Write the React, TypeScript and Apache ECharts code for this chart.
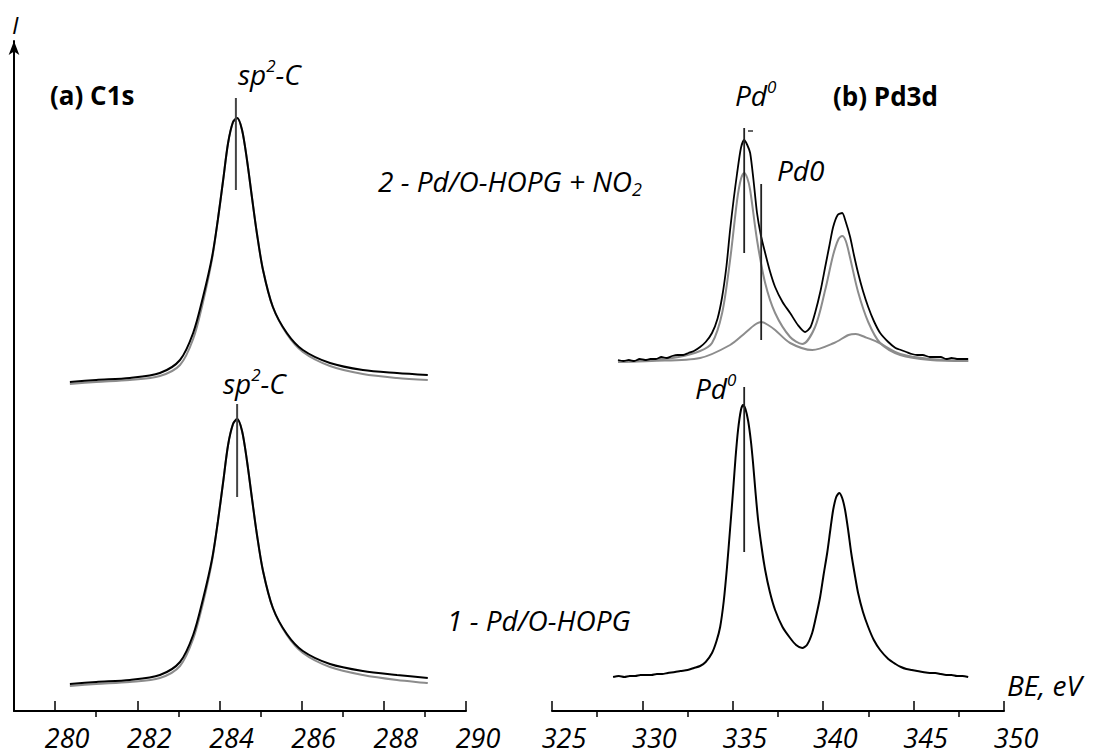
import React, { useEffect, useRef } from "react";
import * as echarts from "echarts";

const FONT = "'Open Sans', sans-serif";

// ---- C1s (binding energy, eV) ----
const c1sEnergy = [280.36, 281.0, 281.82, 282.55, 283.04, 283.36, 283.6, 283.82, 283.96, 284.09, 284.21, 284.33, 284.43, 284.55, 284.67, 284.79, 284.91, 285.06, 285.3, 285.64, 286.03, 286.69, 287.49, 288.32, 289.07];
// spectrum 2 (Pd/O-HOPG + NO2), experimental and fit
const c1sTopExp = [329, 331, 333, 338, 351, 378, 414, 454, 491, 531, 568, 589, 593, 581, 551, 514, 478, 441, 404, 378, 361, 348, 341, 338, 336];
const c1sTopFit = [327, 329, 331, 335, 346, 372, 409, 452, 491, 531, 568, 589, 593, 581, 551, 514, 478, 441, 404, 377, 359, 345, 337, 333, 331];
// spectrum 1 (Pd/O-HOPG)
const c1sBotExp = [27, 29, 31, 36, 49, 76, 112, 152, 189, 229, 266, 287, 292, 280, 250, 213, 177, 140, 103, 77, 60, 47, 40, 36, 33];
const c1sBotFit = [25, 27, 29, 33, 45, 72, 108, 150, 189, 229, 266, 287, 292, 280, 250, 213, 177, 140, 103, 76, 58, 44, 36, 31, 28];

// ---- Pd3d ----
const pdTopExp = [[328.65,351],[328.95,350],[329.25,351],[329.55,350],[329.85,352],[330.15,351],[330.45,352],[330.75,352],[331.05,354],[331.35,353],[331.65,355],[331.95,356],[332.25,356],[332.55,358],[332.85,360],[333.19,364],[333.5,369],[333.85,378],[334.15,392],[334.41,414],[334.65,445],[334.85,481],[335.05,512],[335.24,538],[335.45,563],[335.63,571],[335.8,566],[335.96,558],[336.15,530],[336.34,498],[336.55,476],[336.79,458],[337.05,440],[337.34,424],[337.75,409],[338.17,398],[338.6,386],[339.0,379],[339.3,384],[339.55,398],[339.85,420],[340.11,444],[340.35,466],[340.55,484],[340.8,496],[341.05,498],[341.25,489],[341.49,474],[341.7,456],[341.93,438],[342.2,420],[342.49,404],[342.8,390],[343.15,378],[343.6,369],[344.0,363],[344.3,361],[344.6,359],[344.9,357],[345.2,356],[345.5,356],[345.9,354],[346.2,354],[346.5,354],[346.8,352],[347.1,353],[347.4,352],[347.7,352],[348.02,352]];
const pdTopMain = [[328.65,349],[330.5,351],[332.0,354],[333.19,360],[333.85,368],[334.41,398],[334.85,451],[335.24,511],[335.45,532],[335.63,538],[335.8,533],[335.96,521],[336.34,471],[336.79,428],[337.34,398],[338.17,374],[338.84,367],[339.55,384],[340.11,421],[340.55,456],[340.85,472],[341.05,475],[341.25,470],[341.49,453],[341.93,419],[342.49,389],[343.15,368],[344.26,356],[345.92,351],[348.02,350]];
const pdTopMinor = [[328.65,349],[330.5,350],[333.19,353],[334.85,366],[335.68,378],[336.2,386],[336.57,389],[336.95,386],[337.34,381],[338.17,368],[339.4,361],[340.6,368],[341.4,376],[341.8,377],[342.3,374],[343.0,369],[344.26,357],[345.92,352],[348.02,350]];
const pdBotExp = [[328.38,34],[328.7,35],[329.0,34],[329.3,35],[329.6,35],[329.9,36],[330.2,36],[330.5,36],[330.8,37],[331.1,37],[331.4,38],[331.8,39],[332.1,40],[332.5,41],[332.85,43],[333.19,45],[333.5,49],[333.85,58],[334.1,70],[334.3,84],[334.5,110],[334.68,144],[334.85,182],[335.02,221],[335.15,253],[335.29,281],[335.45,301],[335.57,306],[335.7,302],[335.85,290],[336.0,270],[336.12,248],[336.26,218],[336.4,191],[336.6,163],[336.79,141],[337.05,119],[337.34,101],[337.75,84],[338.17,73],[338.5,66],[338.84,63],[339.1,66],[339.39,78],[339.6,94],[339.83,114],[340.02,136],[340.22,158],[340.4,182],[340.55,201],[340.72,214],[340.88,218],[341.05,213],[341.21,201],[341.38,181],[341.55,158],[341.75,136],[341.93,118],[342.2,99],[342.49,84],[342.8,71],[343.15,61],[343.6,52],[344.0,47],[344.3,44],[344.6,42],[344.9,41],[345.2,40],[345.5,39],[345.9,38],[346.2,38],[346.5,37],[346.8,36],[347.1,36],[347.4,35],[347.7,35],[348.02,34]];

// marker lines [energy, from, to]
const c1sMarkers = [[284.4, 521, 613], [284.43, 214, 307]];
const pdMarkers = [[335.63, 458, 583], [336.57, 371, 527], [335.63, 159, 324]];

const c1sMajorTicks = [280, 282, 284, 286, 288, 290];
const c1sMinorTicks = [281, 283, 285, 287, 289];
const pdMinorTicks = [327.5, 332.5, 337.5, 342.5, 347.5];

const zip = (xs: number[], ys: number[]) => xs.map((x, i) => [x, ys[i]]);

export default function App() {
  const ref = useRef<HTMLDivElement>(null);
  useEffect(() => {
    document.body.style.margin = "0";
    const chart = echarts.init(ref.current!, undefined, { renderer: "svg" });

    const line = (data: number[][], xi: number, color: string, width: number, z = 2, smooth: number | boolean = 0.3) => ({
      type: "line",
      xAxisIndex: xi,
      yAxisIndex: xi < 2 ? 0 : 1,
      data,
      smooth,
      symbol: "none",
      silent: true,
      z,
      lineStyle: { color, width },
    });

    const labelStyle = {
      color: "#000",
      fontFamily: FONT,
      fontStyle: "italic",
      fontSize: 27,
      margin: 13,
      padding: [0, 0, 0, 24],
    };
    const tickStyle = { color: "#000", width: 1.5 };

    const txt = (x: number, y: number, text: string, size: number, opts: any = {}) => ({
      type: "text",
      x,
      y,
      silent: true,
      style: {
        text,
        fill: "#000",
        fontSize: size,
        fontFamily: FONT,
        fontStyle: opts.bold ? "normal" : "italic",
        fontWeight: opts.bold ? "bold" : "normal",
        align: "left",
        verticalAlign: "middle",
        rich: opts.rich,
      },
    });

    const mainTok = (s: number) => ({ fontSize: s, fontFamily: FONT, fontStyle: "italic", fill: "#000", lineHeight: s + 6 });
    const supTok = { fontSize: 17, fontFamily: FONT, fontStyle: "italic", fill: "#000", verticalAlign: "top", lineHeight: 17 };
    const subTok = { fontSize: 18, fontFamily: FONT, fontStyle: "italic", fill: "#000", verticalAlign: "bottom", lineHeight: 18 };

    const option: any = {
      animation: false,
      grid: [
        { left: 14, top: 41, width: 452, height: 670, containLabel: false },
        { left: 552, top: 41, width: 452, height: 670, containLabel: false },
      ],
      xAxis: [
        {
          gridIndex: 0, type: "value", min: 279, max: 290,
          axisLine: { show: true, onZero: false, lineStyle: { color: "#000", width: 2 } },
          axisTick: { show: true, inside: true, length: 10, lineStyle: tickStyle, customValues: c1sMajorTicks },
          axisLabel: { ...labelStyle, customValues: c1sMajorTicks },
          splitLine: { show: false },
        },
        {
          gridIndex: 0, type: "value", min: 279, max: 290,
          axisLine: { show: false },
          axisTick: { show: true, inside: true, length: 6, lineStyle: tickStyle, customValues: c1sMinorTicks },
          axisLabel: { show: false },
          splitLine: { show: false },
        },
        {
          gridIndex: 1, type: "value", min: 325, max: 350, interval: 5,
          axisLine: { show: true, onZero: false, lineStyle: { color: "#000", width: 2 } },
          axisTick: { show: true, inside: true, length: 10, lineStyle: tickStyle },
          axisLabel: { ...labelStyle },
          splitLine: { show: false },
        },
        {
          gridIndex: 1, type: "value", min: 325, max: 350,
          axisLine: { show: false },
          axisTick: { show: true, inside: true, length: 6, lineStyle: tickStyle, customValues: pdMinorTicks },
          axisLabel: { show: false },
          splitLine: { show: false },
        },
      ],
      yAxis: [
        {
          gridIndex: 0, type: "value", min: 0, max: 670,
          axisLine: { show: true, onZero: false, symbol: ["none", "arrow"], symbolSize: [8, 14], lineStyle: { color: "#000", width: 2 } },
          axisTick: { show: false }, axisLabel: { show: false }, splitLine: { show: false },
        },
        {
          gridIndex: 1, type: "value", min: 0, max: 670, show: false,
          splitLine: { show: false },
        },
      ],
      series: [
        line(zip(c1sEnergy, c1sTopFit), 0, "#8c8c8c", 2, 2),
        line(zip(c1sEnergy, c1sTopExp), 0, "#000", 2, 3),
        line(zip(c1sEnergy, c1sBotFit), 0, "#8c8c8c", 2, 2),
        line(zip(c1sEnergy, c1sBotExp), 0, "#000", 2, 3),
        ...c1sMarkers.map((m) => line([[m[0], m[1]], [m[0], m[2]]], 0, "#444", 2, 4, false)),
        line(pdTopMain, 2, "#8c8c8c", 2, 2),
        line(pdTopMinor, 2, "#8c8c8c", 2, 2),
        line(pdTopExp, 2, "#000", 1.8, 3, 0.25),
        line(pdBotExp, 2, "#000", 2, 3, 0.25),
        ...pdMarkers.map((m) => line([[m[0], m[1]], [m[0], m[2]]], 2, "#222", 1.8, 4, false)),
      ],
      graphic: [
        txt(12, 24, "I", 24),
        txt(50, 95, "(a) C1s", 26, { bold: true }),
        txt(833, 96, "(b) Pd3d", 26, { bold: true }),
        txt(238, 74, "{m|sp}{s|2}{m|-C}", 28, { rich: { m: mainTok(28), s: supTok } }),
        txt(223, 383, "{m|sp}{s|2}{m|-C}", 28, { rich: { m: mainTok(28), s: supTok } }),
        txt(735, 95, "{m|Pd}{s|0}", 28, { rich: { m: mainTok(28), s: supTok } }),
        txt(695, 388, "{m|Pd}{s|0}", 28, { rich: { m: mainTok(28), s: supTok } }),
        txt(777, 170, "Pd0", 28),
        txt(378, 181, "{m|2 - Pd/O-HOPG + NO}{b|2}", 28, { rich: { m: mainTok(28), b: subTok } }),
        txt(447, 620, "1 - Pd/O-HOPG", 28),
        txt(1007, 685, "BE, eV", 28),
        { type: "line", silent: true, shape: { x1: 748, y1: 131, x2: 753, y2: 131 }, style: { stroke: "#333", lineWidth: 1.5 } },
      ],
    };
    chart.setOption(option);
    return () => chart.dispose();
  }, []);
  return <div ref={ref} style={{ width: 1093, height: 756 }} />;
}
